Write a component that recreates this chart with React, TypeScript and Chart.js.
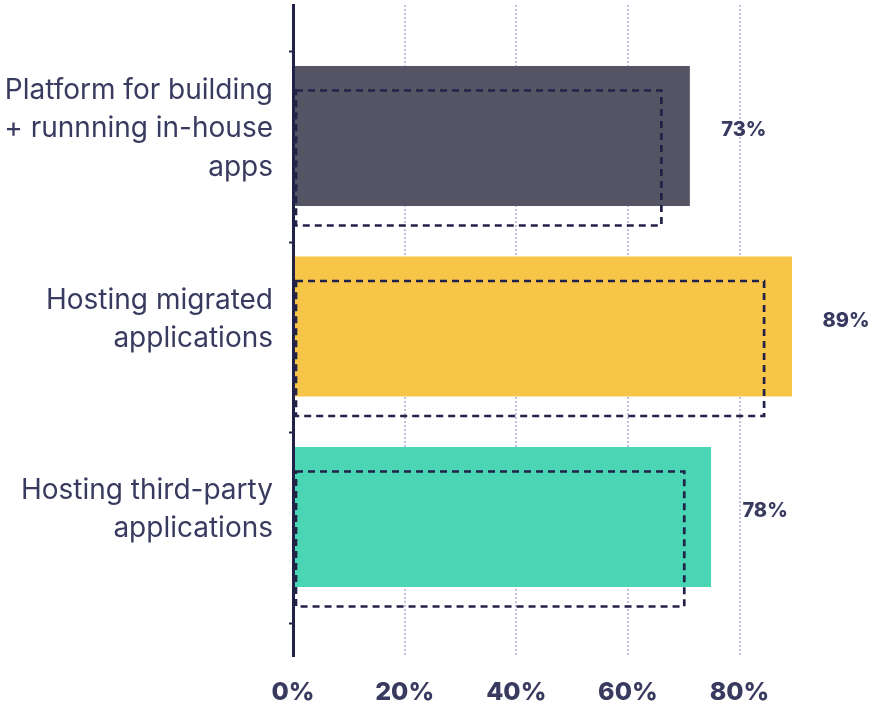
import React, { useEffect, useRef } from 'react';
import { Chart, registerables } from 'chart.js';

Chart.register(...registerables);

const categories: string[][] = [
  ['Platform for building', '+ runnning in-house', 'apps'],
  ['Hosting migrated', 'applications'],
  ['Hosting third-party', 'applications'],
];
const categoryPositions = [1, 2, 3];
const currentValues = [71.1, 89.4, 74.9];
const previousValues = [66, 84.4, 70.1];
const valueLabels = ['73%', '89%', '78%'];
const xTickStep = 20;

const barColors = ['#555464', '#F7C548', '#4AD6B4'];
const NAVY = '#222249';
const TEXT = '#393a5f';
const GRID = '#c3c0de';
const FONT = 'Inter, "Noto Sans", sans-serif';

const overlayPlugin = {
  id: 'overlay',
  afterDatasetsDraw(chart: any) {
    const ctx = chart.ctx;
    const prev = chart.getDatasetMeta(1);
    ctx.save();
    ctx.setLineDash([7, 5]);
    ctx.lineWidth = 2.7;
    ctx.strokeStyle = NAVY;
    prev.data.forEach((el: any) => {
      const { x, y, base, height } = el.getProps(['x', 'y', 'base', 'height'], true);
      ctx.strokeRect(base + 2, y - height / 2, x - base - 2, height);
    });
    ctx.restore();

    const cur = chart.getDatasetMeta(0);
    ctx.save();
    ctx.fillStyle = TEXT;
    ctx.font = `800 20px ${FONT}`;
    ctx.textAlign = 'center';
    ctx.textBaseline = 'middle';
    cur.data.forEach((el: any, i: number) => {
      const { x, y } = el.getProps(['x', 'y'], true);
      ctx.fillText(valueLabels[i], x + 54, y - 6);
    });
    ctx.restore();
  },
};

export default function App() {
  const ref = useRef<HTMLCanvasElement | null>(null);
  useEffect(() => {
    if (!ref.current) return;
    const chart = new Chart(ref.current, {
      type: 'bar',
      data: {
        datasets: [
          {
            label: 'Current',
            data: categoryPositions.map((p, i) => ({ x: currentValues[i], y: p })),
            backgroundColor: barColors,
            borderWidth: 0,
            categoryPercentage: 0.231,
            barPercentage: 6.364,
          },
          {
            label: 'Previous',
            data: categoryPositions.map((p, i) => ({ x: previousValues[i], y: p })),
            backgroundColor: 'rgba(0,0,0,0)',
            borderWidth: 0,
            categoryPercentage: 0.231,
            barPercentage: 6.136,
          },
        ],
      } as any,
      options: {
        indexAxis: 'y',
        responsive: false,
        animation: false,
        layout: { padding: { left: 0, right: 30, top: 5, bottom: 0 } },
        plugins: { legend: { display: false }, tooltip: { enabled: false } },
        scales: {
          x: {
            type: 'linear',
            position: 'bottom',
            min: 0,
            max: 98,
            bounds: 'ticks',
            offset: false,
            grid: { color: GRID, lineWidth: 2, drawTicks: false, offset: false },
            border: { display: false, dash: [2, 2] },
            ticks: {
              stepSize: xTickStep,
              includeBounds: false,
              autoSkip: false,
              padding: 21,
              color: TEXT,
              font: { family: FONT, size: 25, weight: 800 },
              callback: (v: any) => `${v}%`,
            },
            afterFit: (s: any) => { s.height = 51; s.paddingLeft = 0; s.paddingRight = 0; },
          },
          y: {
            type: 'linear',
            reverse: true,
            min: 0.25459,
            max: 3.67192,
            bounds: 'ticks',
            offset: false,
            grid: {
              drawOnChartArea: false,
              drawTicks: true,
              offset: true,
              tickLength: 4,
              tickWidth: 2,
              tickColor: NAVY,
            },
            border: { display: true, color: NAVY, width: 3, z: 1 },
            ticks: {
              stepSize: 1,
              includeBounds: false,
              autoSkip: false,
              padding: 16,
              labelOffset: -18,
              color: TEXT,
              font: { family: FONT, size: 28, lineHeight: 1.36 },
              callback: (v: any) => {
                const idx = categoryPositions.indexOf(Number(v));
                return idx >= 0 ? categories[idx] : '';
              },
            },
            afterFit: (s: any) => { s.width = 293; s.paddingTop = 0; s.paddingBottom = 0; },
          },
        },
      } as any,
      plugins: [overlayPlugin],
    });
    return () => chart.destroy();
  }, []);
  return (
    <div style={{ position: 'absolute', left: 0, top: 0, width: 870, height: 707, background: '#fff' }}>
      <canvas ref={ref} width={870} height={707} style={{ display: 'block' }} />
    </div>
  );
}
